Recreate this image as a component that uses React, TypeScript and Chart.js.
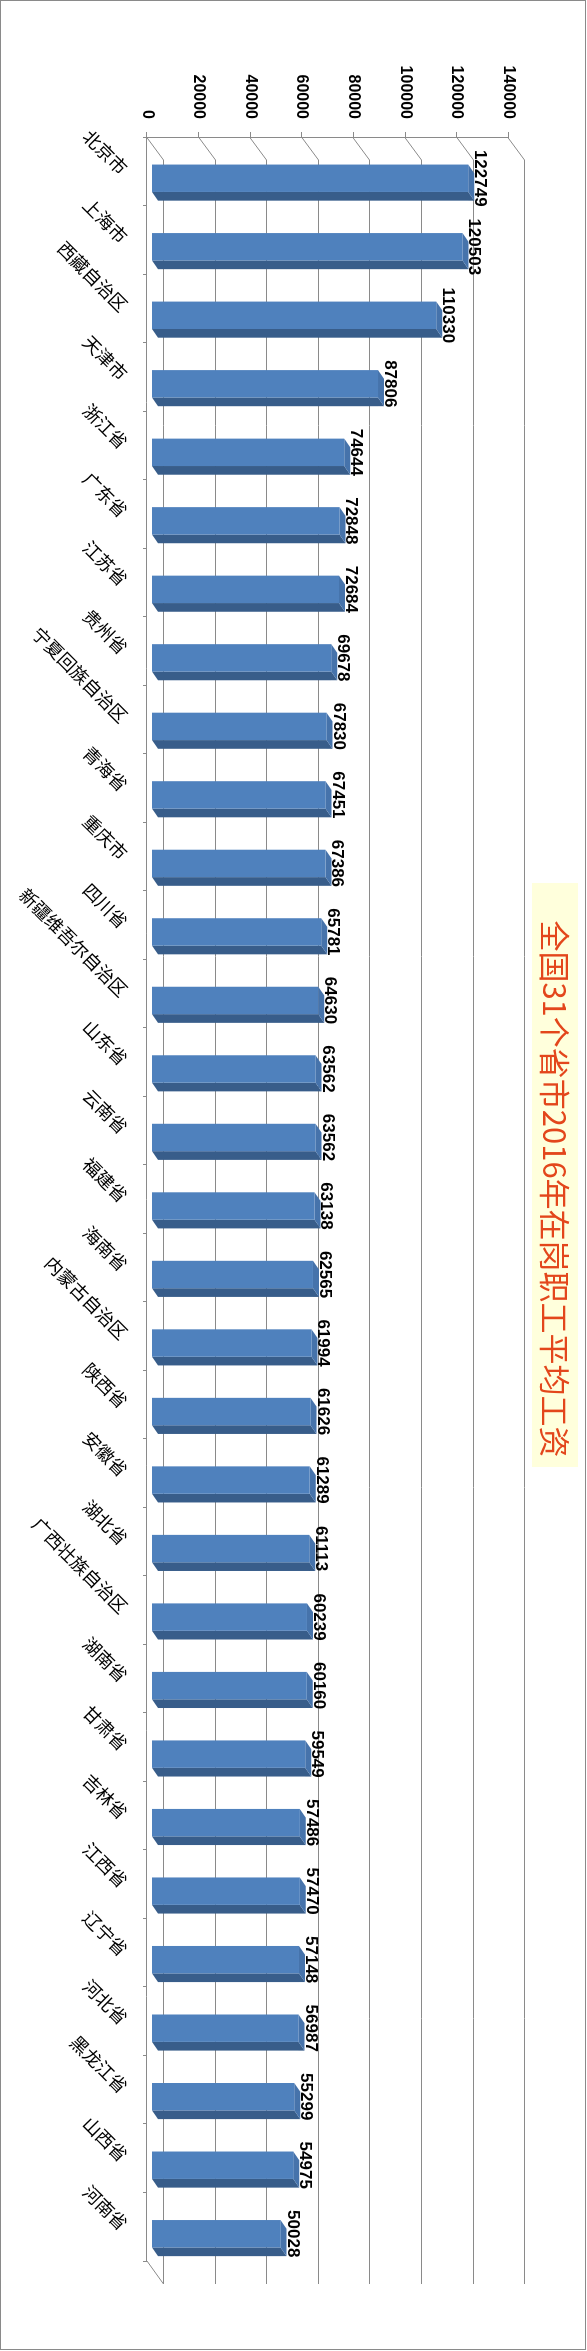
import { useEffect, useRef } from "react";
import { Chart, registerables } from "chart.js";

Chart.register(...registerables);

// The chart is drawn as an ordinary column chart on a wide canvas and the
// canvas is then turned 90° clockwise, like the original picture.
const W = 2351;
const H = 587;

const provinces = [
  "北京市", "上海市", "西藏自治区", "天津市", "浙江省", "广东省", "江苏省",
  "贵州省", "宁夏回族自治区", "青海省", "重庆市", "四川省", "新疆维吾尔自治区",
  "山东省", "云南省", "福建省", "海南省", "内蒙古自治区", "陕西省", "安徽省",
  "湖北省", "广西壮族自治区", "湖南省", "甘肃省", "吉林省", "江西省", "辽宁省",
  "河北省", "黑龙江省", "山西省", "河南省",
];

const wages = [
  122749, 120503, 110330, 87806, 74644, 72848, 72684, 69678, 67830, 67451,
  67386, 65781, 64630, 63562, 63562, 63138, 62565, 61994, 61626, 61289,
  61113, 60239, 60160, 59549, 57486, 57470, 57148, 56987, 55299, 54975,
  50028,
];

const valueMin = 0;
const valueMax = 140000;
const valueStep = 20000;

const title = "全国31个省市2016年在岗职工平均工资";

const GRID = "#8a8a8a";
const FRONT = "#4F81BD";
const TOP = "#4673AB";
const SIDE = "#385D8A";

// fake 3d offsets
const WALL_DX = 23;
const WALL_DY = 16.6;
const FACE_DX = 7;
const FACE_DY = 4.5;
const BAR_DX = 8.7;
const BAR_DY = 6;

const wallPlugin = {
  id: "wall",
  beforeDatasetsDraw(chart: any) {
    const { ctx, chartArea: a, scales } = chart;
    const y = scales.y;
    ctx.save();
    ctx.strokeStyle = GRID;
    ctx.lineWidth = 1;
    ctx.beginPath();
    y.ticks.forEach((t: any) => {
      const p = Math.round(y.getPixelForValue(t.value));
      const back = Math.round(p - WALL_DY) + 0.5;
      ctx.moveTo(a.left, p + 0.5);
      ctx.lineTo(a.left + WALL_DX, back);
      ctx.lineTo(a.right + WALL_DX, back);
    });
    ctx.moveTo(a.right, a.bottom);
    ctx.lineTo(a.right + WALL_DX, Math.round(a.bottom - WALL_DY) + 0.5);
    ctx.stroke();
    ctx.restore();
  },
};

const barsPlugin = {
  id: "bars3d",
  afterDatasetsDraw(chart: any) {
    const { ctx } = chart;
    const meta = chart.getDatasetMeta(0);
    ctx.save();
    meta.data.forEach((bar: any, i: number) => {
      const { x, y, base, width } = bar.getProps(["x", "y", "base", "width"], true);
      const l = x - width / 2 + FACE_DX;
      const r = x + width / 2 + FACE_DX;
      const t = y - FACE_DY;
      const b = base - FACE_DY;

      ctx.fillStyle = SIDE;
      ctx.beginPath();
      ctx.moveTo(r, t);
      ctx.lineTo(r + BAR_DX, t - BAR_DY);
      ctx.lineTo(r + BAR_DX, b - BAR_DY);
      ctx.lineTo(r, b);
      ctx.closePath();
      ctx.fill();

      ctx.fillStyle = TOP;
      ctx.beginPath();
      ctx.moveTo(l, t);
      ctx.lineTo(r, t);
      ctx.lineTo(r + BAR_DX, t - BAR_DY);
      ctx.lineTo(l + BAR_DX, t - BAR_DY);
      ctx.closePath();
      ctx.fill();

      ctx.fillStyle = FRONT;
      ctx.fillRect(l, t, r - l, b - t);

      ctx.fillStyle = "#000";
      ctx.font = 'bold 17px "Liberation Sans", Arial, sans-serif';
      ctx.textAlign = "center";
      ctx.textBaseline = "alphabetic";
      ctx.fillText(String(wages[i]), x + FACE_DX, t - 7);
    });
    ctx.restore();
  },
};

const titlePlugin = {
  id: "boxTitle",
  afterDraw(chart: any) {
    const { ctx } = chart;
    ctx.save();
    ctx.fillStyle = "#FFFFDC";
    ctx.fillRect(883, 9, 584, 46);
    ctx.fillStyle = "#E3461B";
    ctx.font = '31px "Noto Sans CJK SC", sans-serif';
    ctx.textAlign = "center";
    ctx.textBaseline = "middle";
    ctx.fillText(title, 1189, 32);
    ctx.restore();
  },
};

function WageChart() {
  const canvasRef = useRef<HTMLCanvasElement>(null);

  useEffect(() => {
    if (!canvasRef.current) return;
    const chart = new Chart(canvasRef.current, {
      type: "bar",
      data: {
        labels: provinces,
        datasets: [
          {
            data: wages,
            backgroundColor: "rgba(0,0,0,0)",
            borderWidth: 0,
            barPercentage: 0.4,
            categoryPercentage: 1,
          },
        ],
      },
      options: {
        responsive: false,
        animation: false,
        layout: { padding: { top: 78.7, right: 90, left: 0, bottom: 0 } },
        plugins: {
          legend: { display: false },
          tooltip: { enabled: false },
          title: { display: false },
        },
        scales: {
          x: {
            afterFit: (scale: any) => {
              scale.height = 147;
            },
            grid: {
              drawOnChartArea: false,
              tickLength: 4,
              color: GRID,
            },
            border: { color: GRID },
            ticks: {
              autoSkip: false,
              minRotation: 45,
              maxRotation: 45,
              padding: 11,
              labelOffset: 0,
              color: "#000",
              font: { family: '"Noto Sans CJK SC", sans-serif', size: 18 },
            },
          },
          y: {
            min: valueMin,
            max: valueMax,
            afterFit: (scale: any) => {
              scale.width = 137;
            },
            grid: {
              drawOnChartArea: false,
              tickLength: 5,
              color: GRID,
            },
            border: { color: GRID },
            ticks: {
              stepSize: valueStep,
              padding: 13,
              color: "#000",
              callback: (v: any) => String(v),
              font: { family: '"Liberation Sans", Arial, sans-serif', size: 16, weight: "bold" },
            },
          },
        },
      },
      plugins: [wallPlugin, barsPlugin, titlePlugin],
    });
    return () => {
      chart.destroy();
    };
  }, []);

  return (
    <div
      style={{
        position: "absolute",
        left: 0,
        top: 0,
        width: W,
        height: H,
        transformOrigin: "0 0",
        transform: `translate(${H}px, 0) rotate(90deg)`,
      }}
    >
      <canvas ref={canvasRef} width={W} height={H} style={{ display: "block", width: W, height: H }} />
    </div>
  );
}

export default function App() {
  return (
    <div
      style={{
        position: "absolute",
        left: 0,
        top: 0,
        width: H,
        height: W,
        overflow: "hidden",
        background: "#fff",
      }}
    >
      <WageChart />
      <div
        style={{
          position: "absolute",
          left: 0,
          top: 0,
          width: 586,
          height: 2350,
          border: "1px solid #8a8a8a",
          boxSizing: "border-box",
          pointerEvents: "none",
        }}
      />
    </div>
  );
}
